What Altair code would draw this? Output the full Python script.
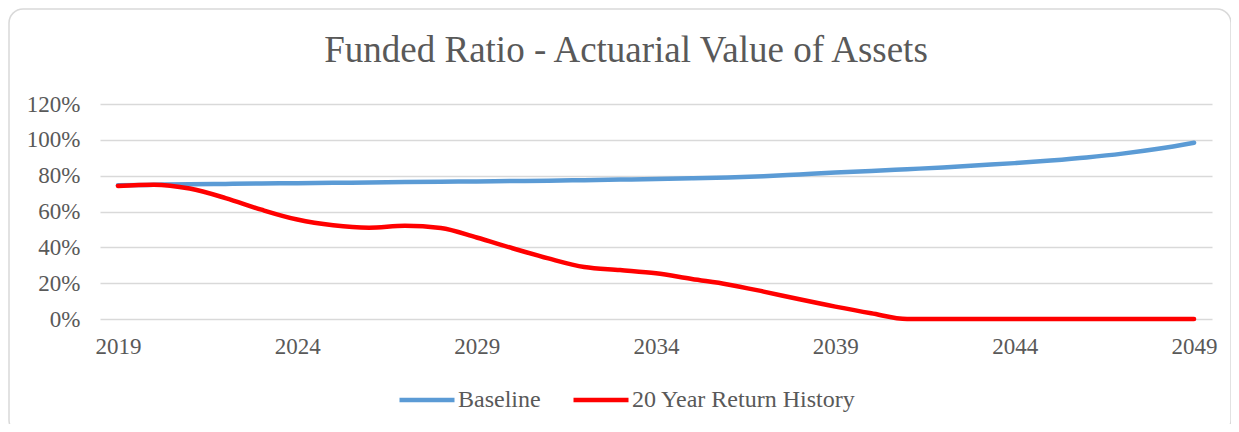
import altair as alt
import pandas as pd

years = list(range(2019, 2050))
baseline = [74.6, 74.9, 75.2, 75.4, 75.6, 75.8, 76.0, 76.2, 76.4, 76.6,
            76.8, 77.0, 77.2, 77.5, 77.8, 78.1, 78.5, 79.0, 79.7, 80.7,
            81.7, 82.6, 83.6, 84.6, 85.8, 87.0, 88.5, 90.2, 92.3, 95.0, 98.4]
history20 = [74.3, 75.0, 72.8, 67.5, 61.0, 55.5, 52.3, 51.0, 52.0, 50.8,
             45.5, 39.5, 33.8, 29.0, 27.3, 25.5, 22.3, 19.3, 15.3, 11.0,
             6.9, 3.2, 0, 0, 0, 0, 0, 0, 0, 0, 0]
series_names = ["Baseline", "20 Year Return History"]
series_colors = ["#5B9BD5", "#FF0000"]
x_tick_values = [2019, 2024, 2029, 2034, 2039, 2044, 2049]
y_tick_values = [0, 0.2, 0.4, 0.6, 0.8, 1.0, 1.2]

rows = []
for y, b, h in zip(years, baseline, history20):
    rows.append({"year": y, "series": series_names[0], "value": b / 100})
    rows.append({"year": y, "series": series_names[1], "value": h / 100})
df = pd.DataFrame(rows)

FONT = "Liberation Serif"
GREY = "#595959"

border = alt.Chart(pd.DataFrame({"k": [0]})).mark_rect(
    fillOpacity=0, stroke="#d9d9d9", strokeWidth=1.5, cornerRadius=14, clip=False
).encode(
    x=alt.value(-91), x2=alt.value(1131), y=alt.value(-95), y2=alt.value(330)
)

lines = alt.Chart(df).mark_line(
    strokeWidth=4.5, interpolate="monotone", strokeCap="round", strokeJoin="round"
).encode(
    x=alt.X("year:O", scale=alt.Scale(type="point", padding=0.5),
            axis=alt.Axis(values=x_tick_values, labelAngle=0, ticks=False, domain=False,
                          grid=False, labelFont=FONT, labelFontSize=23, labelColor=GREY,
                          labelPadding=16, title=None)),
    y=alt.Y("value:Q", scale=alt.Scale(domain=[0, 1.2], nice=False),
            axis=alt.Axis(values=y_tick_values, format=".0%", ticks=False, domain=False,
                          gridColor="#d9d9d9", gridWidth=1.5, labelFont=FONT,
                          labelFontSize=23, labelColor=GREY, labelPadding=20, title=None)),
    color=alt.Color("series:N",
                    scale=alt.Scale(domain=series_names, range=series_colors),
                    sort=series_names,
                    legend=alt.Legend(orient="none", direction="horizontal", legendX=297,
                                      legendY=266, title=None, symbolType="stroke",
                                      symbolSize=3025, symbolStrokeWidth=4.5,
                                      labelFont=FONT, labelFontSize=24, labelColor=GREY,
                                      labelOffset=1, columnPadding=23, labelLimit=400)),
)

chart = alt.layer(border, lines).properties(
    width=1112, height=215,
    title=alt.TitleParams("Funded Ratio - Actuarial Value of Assets", font=FONT,
                          fontSize=37, fontWeight="normal", color=GREY,
                          anchor="middle", dx=-30, dy=62, offset=0),
    autosize=alt.AutoSizeParams(type="none"),
    padding={"left": 92, "top": 96, "right": 19, "bottom": 105},
).configure_view(stroke=None)

chart.save("out.html", embed_options={"renderer": "svg", "actions": False})
